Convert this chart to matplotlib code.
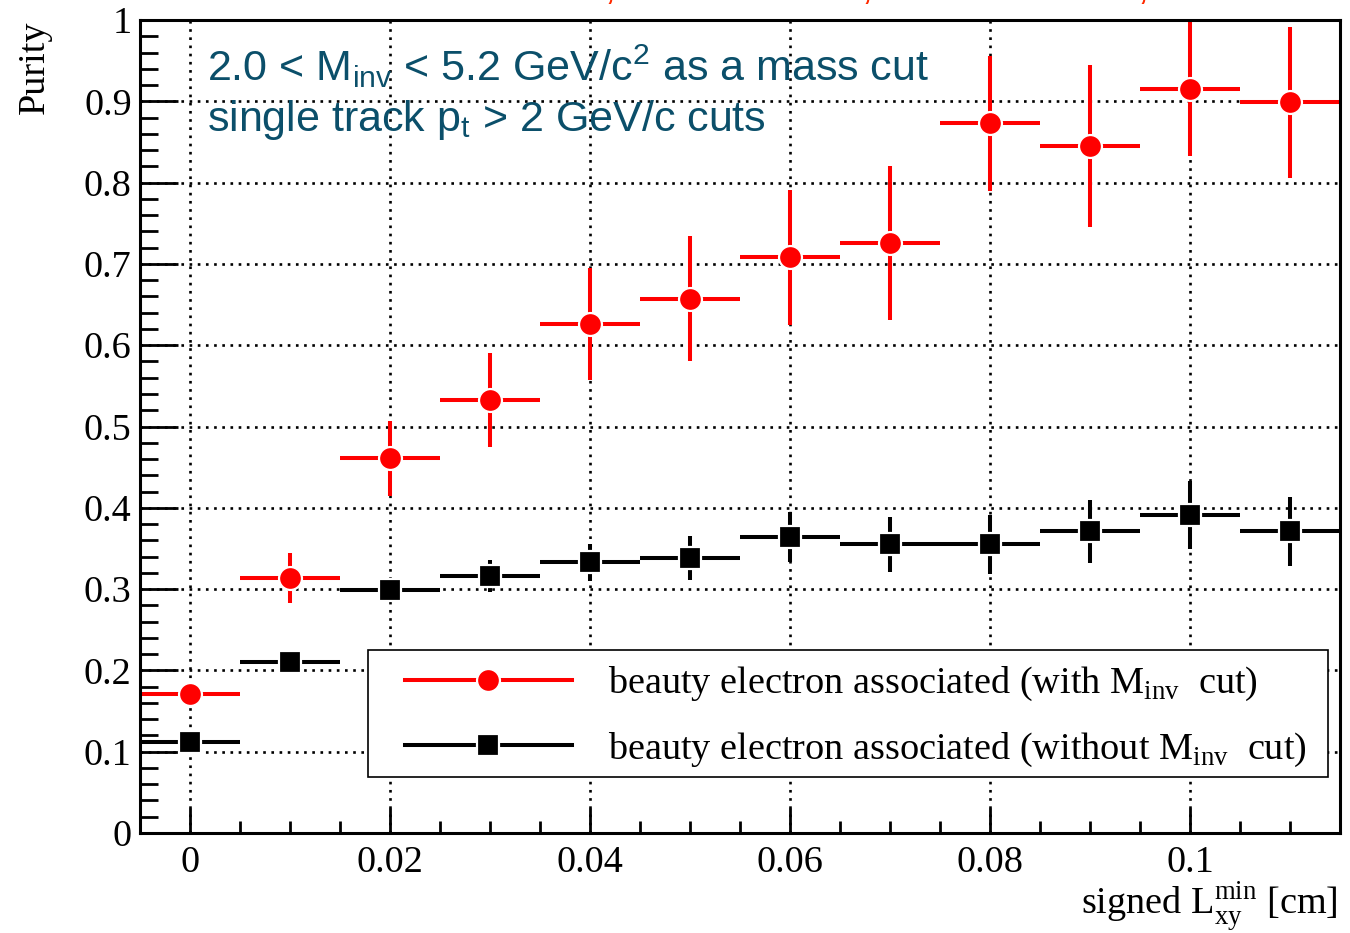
import matplotlib
matplotlib.use("Agg")
import matplotlib.pyplot as plt
from matplotlib.lines import Line2D
from matplotlib.patches import Rectangle
from matplotlib.ticker import MultipleLocator, FixedLocator
import numpy as np

# ── Data ──────────────────────────────────────────────────────────────────────
lxy_cut = [0.0, 0.01, 0.02, 0.03, 0.04, 0.05, 0.06, 0.07, 0.08, 0.09, 0.10, 0.11]
bin_half = 0.005

purity_mcut = [0.171, 0.314, 0.461, 0.533, 0.626, 0.657, 0.708, 0.726, 0.873, 0.845, 0.915, 0.899]
err_mcut    = [0.010, 0.031, 0.046, 0.058, 0.069, 0.077, 0.083, 0.095, 0.083, 0.100, 0.082, 0.093]

purity_nocut = [0.112, 0.210, 0.299, 0.316, 0.333, 0.338, 0.364, 0.355, 0.355, 0.371, 0.391, 0.371]
err_nocut    = [0.008, 0.010, 0.010, 0.020, 0.023, 0.027, 0.031, 0.034, 0.036, 0.039, 0.042, 0.042]

x_ticks = [0.0, 0.02, 0.04, 0.06, 0.08, 0.10]
x_tick_labels = ["0", "0.02", "0.04", "0.06", "0.08", "0.1"]
y_ticks = [0.0, 0.1, 0.2, 0.3, 0.4, 0.5, 0.6, 0.7, 0.8, 0.9, 1.0]
y_tick_labels = ["0", "0.1", "0.2", "0.3", "0.4", "0.5", "0.6", "0.7", "0.8", "0.9", "1"]

label_mcut = r"beauty electron associated (with M$_{\mathregular{inv}}$  cut)"
label_nocut = r"beauty electron associated (without M$_{\mathregular{inv}}$  cut)"

# ── Style ─────────────────────────────────────────────────────────────────────
SERIF = "Liberation Serif"
SANS = "Liberation Sans"
TEAL = "#0b4f6a"
RED = "#ff0000"
FS = 27.5
W, H = 1350, 933
plt.rcParams["font.family"] = SERIF

fig = plt.figure(figsize=(W / 100, H / 100), dpi=100)
ax = fig.add_axes([140 / W, 100 / H, 1200 / W, 813 / H])

ax.set_xlim(-0.005, 0.115)
ax.set_ylim(0.0, 1.0)

# dotted grid at the major ticks
grid_kw = dict(color="black", lw=1.9, linestyle=(0, (1, 2.1)), zorder=1)
for gx in x_ticks:
    ax.axvline(gx, **grid_kw)
for gy in y_ticks[1:-1]:
    ax.axhline(gy, **grid_kw)

# ── Series ────────────────────────────────────────────────────────────────────
ax.errorbar(lxy_cut, purity_mcut, xerr=bin_half, yerr=err_mcut, fmt="o",
            color=RED, ecolor=RED, elinewidth=2.9, capsize=0, ms=16.5,
            mec="white", mew=1.6, zorder=4)
ax.errorbar(lxy_cut, purity_nocut, xerr=bin_half, yerr=err_nocut, fmt="s",
            color="black", ecolor="black", elinewidth=2.9, capsize=0, ms=15.5,
            mec="white", mew=1.6, zorder=4)

# ── Axes ──────────────────────────────────────────────────────────────────────
for sp in ax.spines.values():
    sp.set_linewidth(2.2)
    sp.set_zorder(5)

ax.xaxis.set_major_locator(FixedLocator(x_ticks))
ax.set_xticklabels(x_tick_labels)
ax.xaxis.set_minor_locator(MultipleLocator(0.005))
ax.yaxis.set_major_locator(FixedLocator(y_ticks))
ax.set_yticklabels(y_tick_labels)
ax.yaxis.set_minor_locator(MultipleLocator(0.02))

ax.tick_params(axis="x", which="major", direction="in", length=18, width=2,
               labelsize=FS, pad=9, top=False)
ax.tick_params(axis="x", which="minor", direction="in", length=9, width=2, top=False)
ax.tick_params(axis="y", which="major", direction="in", length=27, width=2,
               labelsize=FS, pad=6, right=False)
ax.tick_params(axis="y", which="minor", direction="in", length=13, width=2, right=False)

fig.text(35 / W, 1 - 20 / H, "Purity", rotation=90, ha="center", va="top",
         fontsize=FS, family=SERIF)
fig.text(1338 / W, 1 - 915 / H, r"signed L$_{\mathregular{xy}}^{\mathregular{min}}$ [cm]",
         ha="right", va="baseline", fontsize=FS, family=SERIF)

# selection cuts
ax.text(0.0017, 0.925, r"2.0 < M$_{\mathregular{inv}}$ < 5.2 GeV/c$^{\mathregular{2}}$ as a mass cut",
        ha="left", va="baseline", fontsize=31, color=TEAL, family=SANS, zorder=6)
ax.text(0.0017, 0.8635, r"single track p$_{\mathregular{t}}$ > 2 GeV/c cuts",
        ha="left", va="baseline", fontsize=31, color=TEAL, family=SANS, zorder=6)

# title sits above the canvas edge, only its lower edge shows
fig.text(492 / W, 1.0, r"ALICE, $\sqrt{s}$ = 5.5 TeV, Pb–Pb 0–10 %, L = 10 nb",
         ha="left", va="baseline", fontsize=28, color="#ff2a00", family=SANS)

# ── Legend ────────────────────────────────────────────────────────────────────
# box drawn separately so the padding can differ from the entry spacing
to_ax = lambda px, py: ((px - 140) / 1200, (833 - py) / 813)
x0, y0 = to_ax(368, 777)
x1, y1 = to_ax(1328, 650)
ax.add_patch(Rectangle((x0, y0), x1 - x0, y1 - y0, transform=ax.transAxes,
                       facecolor="white", edgecolor="black", lw=1.2, zorder=7))

handles = [
    Line2D([], [], color=RED, lw=2.9, marker="o", ms=16.5, mec="white", mew=1.6),
    Line2D([], [], color="black", lw=2.9, marker="s", ms=15.5, mec="white", mew=1.6),
]
leg = ax.legend(handles, [label_mcut, label_nocut], loc="upper left",
                bbox_to_anchor=to_ax(405, 665), fontsize=FS,
                handlelength=4.37, handletextpad=0.94, borderpad=0,
                labelspacing=0.71, frameon=False, borderaxespad=0)
leg.set_zorder(8)

fig.savefig("out.png", dpi=100)
